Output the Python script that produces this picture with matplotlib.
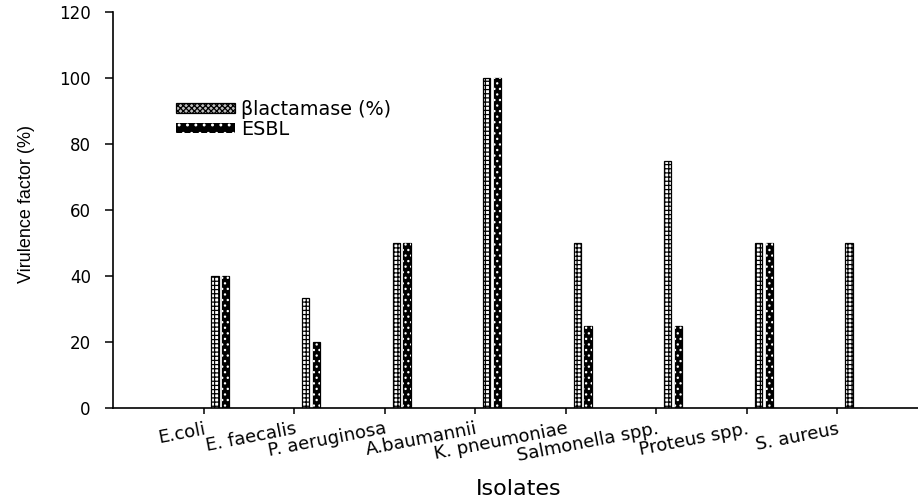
import numpy as np
import matplotlib
matplotlib.use("Agg")
import matplotlib.pyplot as plt
from matplotlib.patches import Patch

# data
isolates = ["E.coli", "E. faecalis", "P. aeruginosa", "A.baumannii",
            "K. pneumoniae", "Salmonella spp.", "Proteus spp.", "S. aureus"]
blactamase = [40, 33.3, 50, 100, 50, 75, 50, 50]
esbl = [40, 20, 50, 100, 25, 25, 50, 0]
series_names = ["\u03b2lactamase (%)", "ESBL"]
y_ticks = [0, 20, 40, 60, 80, 100, 120]

plt.rcParams['font.family'] = ['DejaVu Sans']
plt.rcParams['hatch.linewidth'] = 0.9

fig = plt.figure(figsize=(9.18, 5.03), dpi=100)
ax = fig.add_axes([113 / 918, 1 - 408 / 503, 1 - 113 / 918, (408 - 12) / 503])

x = np.arange(1, len(isolates) + 1)
w = 0.08

# first series: white bars with grid hatch
ax.bar(x + 0.127, blactamase, w, facecolor="white", edgecolor="black",
       hatch="++++", linewidth=0.9)
# second series: black bars with sparse white dots
ax.bar(x + 0.246, esbl, w, facecolor="black", edgecolor="black", linewidth=0.9)
ax.bar(x + 0.246, esbl, w, fill=False, edgecolor="white", hatch="...",
       linewidth=0)

ax.set_xlim(0, 8.89)
ax.set_ylim(0, 120)
ax.set_yticks(y_ticks)
ax.set_xticks(x)
ax.set_xticklabels(isolates, rotation=11, ha="right", va="top",
                   rotation_mode="anchor", fontsize=13)
ax.tick_params(axis="y", labelsize=12, length=6, width=1.1, direction="out", pad=10)
ax.tick_params(axis="x", length=4.5, width=1.1, direction="out", pad=4)

for s in ["top", "right"]:
    ax.spines[s].set_visible(False)
for s in ["left", "bottom"]:
    ax.spines[s].set_linewidth(1.2)

ax.set_ylabel("Virulence factor (%)", fontsize=13,
              family=["Liberation Sans", "DejaVu Sans"])
ax.yaxis.set_label_coords(-0.097, 0.515)
ax.set_xlabel("Isolates", fontsize=16)
ax.xaxis.set_label_coords(0.504, -0.18)

handles = [Patch(facecolor="#bdbdbd", edgecolor="black", hatch="xxxxxx", linewidth=0.9),
           Patch(facecolor="black", edgecolor="white", hatch="..", linewidth=0)]
fig.legend(handles, series_names, loc="upper left",
           bbox_to_anchor=(176 / 918, 1 - 100 / 503), bbox_transform=fig.transFigure,
           frameon=False, fontsize=13.8, handlelength=3.1, handleheight=0.45,
           handletextpad=0.3, labelspacing=0.05, borderpad=0, borderaxespad=0)

fig.savefig("out.png", dpi=100)
